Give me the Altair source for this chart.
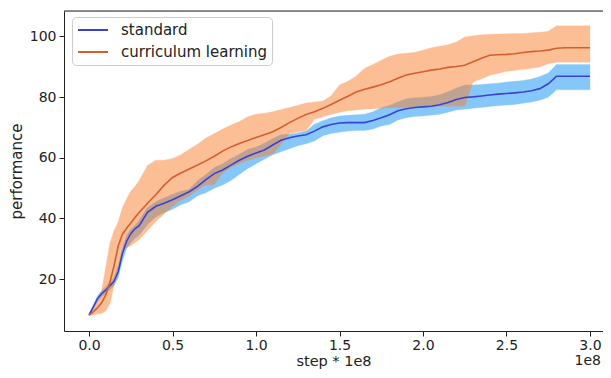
import altair as alt
import pandas as pd

# step (units of 1e8)
steps = [0, 0.025, 0.05, 0.075, 0.1, 0.125, 0.15, 0.175, 0.2, 0.225, 0.25, 0.275, 0.3,
         0.35, 0.4, 0.45, 0.5, 0.55, 0.6, 0.65, 0.7, 0.75, 0.8, 0.85, 0.9, 0.95, 1.0,
         1.05, 1.1, 1.15, 1.2, 1.25, 1.3, 1.35, 1.4, 1.45, 1.5, 1.55, 1.6, 1.65, 1.7,
         1.75, 1.8, 1.85, 1.9, 1.95, 2.0, 2.05, 2.1, 2.15, 2.2, 2.25, 2.3, 2.35, 2.4,
         2.45, 2.5, 2.55, 2.6, 2.65, 2.7, 2.75, 2.8, 2.85, 2.9, 2.95, 3.0]

std_mean = [8.2, 10.8, 13.5, 15.2, 16.4, 17.8, 19.3, 22.5, 28.5, 32.5, 35.0, 36.6, 37.6,
            42.0, 44.0, 45.0, 46.2, 47.5, 48.8, 50.6, 52.8, 54.8, 56.0, 57.6, 59.2, 60.5, 61.6,
            62.6, 64.2, 65.8, 66.6, 67.2, 67.6, 68.8, 70.2, 71.0, 71.5, 71.6, 71.6, 71.6, 72.3,
            73.2, 74.2, 75.5, 76.2, 76.6, 76.8, 77.0, 77.5, 78.2, 79.2, 79.9, 80.1, 80.4, 80.7,
            81.0, 81.2, 81.4, 81.7, 82.1, 82.8, 84.4, 86.9, 86.9, 86.9, 86.9, 86.9]
std_hi = [8.5, 11.5, 14.5, 16.2, 17.5, 19.0, 20.5, 24.5, 30.5, 34.5, 36.5, 37.7, 39.5,
          43.6, 45.5, 46.8, 48.0, 49.0, 49.6, 52.5, 54.5, 56.8, 58.0, 59.8, 61.2, 62.8, 63.6,
          64.8, 66.4, 67.6, 67.8, 68.2, 68.8, 71.1, 72.2, 73.2, 73.8, 74.0, 74.2, 74.4, 75.2,
          76.5, 77.3, 78.5, 79.5, 79.8, 80.0, 80.2, 80.8, 81.8, 83.0, 84.0, 84.0, 84.2, 84.4,
          84.6, 85.0, 85.2, 85.5, 86.0, 86.8, 88.0, 90.8, 90.8, 90.8, 90.8, 90.8]
std_lo = [7.9, 10.0, 12.5, 14.2, 15.3, 16.5, 17.8, 20.5, 26.0, 30.0, 32.0, 33.5, 34.5,
          38.0, 40.5, 42.0, 43.0, 44.5, 45.5, 47.5, 48.5, 50.0, 51.0, 52.5, 54.5, 56.5, 58.0,
          59.5, 61.0, 62.0, 63.0, 64.0, 64.6, 65.5, 67.3, 68.0, 68.4, 68.8, 69.0, 69.0, 69.5,
          70.5, 71.0, 72.5, 73.2, 73.6, 73.8, 74.0, 74.4, 75.0, 75.8, 76.0, 76.3, 76.6, 76.9,
          77.2, 77.4, 77.6, 78.0, 78.4, 79.0, 80.0, 82.4, 82.4, 82.4, 82.4, 82.4]

cur_mean = [8.1, 9.2, 10.5, 12.2, 14.8, 19.0, 24.5, 31.0, 34.8, 36.8, 38.5, 40.3, 42.0,
            45.0, 47.8, 51.0, 53.5, 55.0, 56.3, 57.6, 59.0, 60.5, 62.2, 63.6, 64.7, 65.7, 66.7,
            67.6, 68.6, 70.0, 71.6, 73.0, 74.3, 75.2, 76.3, 77.6, 79.0, 80.3, 81.7, 82.6, 83.3,
            84.1, 85.1, 86.2, 87.3, 87.9, 88.4, 88.9, 89.3, 89.8, 90.1, 90.5, 91.7, 92.8, 93.8,
            94.0, 94.1, 94.3, 94.7, 95.0, 95.2, 95.5, 96.1, 96.3, 96.3, 96.3, 96.3]
cur_hi = [8.3, 10.5, 12.8, 16.2, 24.0, 32.0, 36.0, 39.0, 43.6, 46.5, 49.0, 50.5, 52.5,
          57.5, 59.2, 59.2, 59.8, 61.0, 62.8, 64.5, 66.5, 68.0, 69.5, 70.8, 72.0, 73.5, 74.4,
          74.7, 75.2, 75.9, 76.6, 77.3, 78.1, 78.4, 78.7, 80.5, 84.0, 85.2, 87.0, 89.5, 90.8,
          92.2, 93.5, 94.2, 94.5, 94.8, 95.5, 96.3, 96.8, 97.3, 98.2, 99.8, 100.2, 100.6, 100.7,
          100.8, 100.9, 101.0, 101.0, 101.2, 101.4, 101.7, 103.5, 103.5, 103.5, 103.5, 103.5]
cur_lo = [7.9, 8.2, 8.5, 8.7, 9.5, 11.9, 18.0, 22.7, 29.5, 30.5, 31.0, 32.0, 33.0,
          36.0, 39.0, 41.5, 44.0, 46.0, 47.3, 49.5, 51.0, 51.2, 55.0, 56.8, 58.0, 59.2, 60.0,
          60.6, 61.2, 64.5, 68.0, 68.5, 69.0, 72.7, 73.5, 74.3, 75.0, 75.5, 75.8, 76.0, 76.2,
          76.3, 76.5, 76.6, 76.7, 76.8, 76.9, 77.0, 77.0, 77.0, 77.0, 77.0, 85.1, 86.0, 87.2,
          87.8, 88.5, 88.8, 89.2, 89.5, 89.9, 91.0, 91.5, 91.5, 91.5, 91.5, 91.5]

series_names = ["standard", "curriculum learning"]
line_colors = ["#3a42cf", "#d2602f"]
band_colors = ["#0f91f7", "#fb7f2b"]

rows = []
for name, m, lo, hi in [(series_names[0], std_mean, std_lo, std_hi),
                        (series_names[1], cur_mean, cur_lo, cur_hi)]:
    for s, a, b, c in zip(steps, m, lo, hi):
        rows.append({"step": s, "series": name, "mean": a, "lo": b, "hi": c})
df = pd.DataFrame(rows)

FONT = "DejaVu Sans"
TXT = "#222222"
W, H = 539, 320

xscale = alt.Scale(domain=[-0.15, 3.078], nice=False, zero=False)
yscale = alt.Scale(domain=[2.9, 108.4], nice=False, zero=False)

xaxis = alt.Axis(values=[0, 0.5, 1.0, 1.5, 2.0, 2.5, 3.0], format=".1f", grid=False,
                 title="step * 1e8", titleFontSize=14.5, titleFontWeight="normal",
                 titleFont=FONT, titleColor=TXT, titleY=30, titleBaseline="middle",
                 labelFont=FONT, labelFontSize=14, labelColor=TXT, tickColor=TXT,
                 domainColor=TXT, tickSize=5, labelPadding=2)
yaxis = alt.Axis(values=[20, 40, 60, 80, 100], grid=False, title="performance",
                 titleFontSize=15, titleFontWeight="normal", titleFont=FONT,
                 titleColor=TXT, titlePadding=5, labelFont=FONT, labelFontSize=14,
                 labelColor=TXT, tickColor=TXT, domainColor=TXT, tickSize=5,
                 labelPadding=3)

base = alt.Chart(df)

bands = []
for name, col in zip(series_names, band_colors):
    bands.append(
        base.transform_filter(alt.datum.series == name)
        .mark_area(interpolate="linear", color=col, opacity=0.5,
                   stroke=col, strokeWidth=1, strokeOpacity=0.3)
        .encode(x=alt.X("step:Q", scale=xscale, axis=xaxis),
                y=alt.Y("lo:Q", scale=yscale, axis=yaxis),
                y2="hi:Q")
    )

lines = base.mark_line(strokeWidth=1.6, interpolate="linear").encode(
    x=alt.X("step:Q", scale=xscale, axis=xaxis),
    y=alt.Y("mean:Q", scale=yscale, axis=yaxis),
    color=alt.Color("series:N", scale=alt.Scale(domain=series_names, range=line_colors),
                    sort=series_names,
                    legend=alt.Legend(title=None, orient="none", legendX=8, legendY=6,
                                      symbolType="stroke", symbolStrokeWidth=2,
                                      symbolSize=900, clipHeight=16,
                                      labelFont=FONT, labelFontSize=15,
                                      labelColor=TXT, padding=5, rowPadding=6,
                                      labelOffset=12, fillColor="white",
                                      strokeColor="#cccccc", cornerRadius=4)),
    detail="series:N",
)

topline = alt.Chart(pd.DataFrame({"v": [0]})).mark_rule(color=TXT, strokeWidth=1).encode(
    x=alt.value(0), x2=alt.value(W), y=alt.value(0))

offset_text = alt.Chart(pd.DataFrame({"t": ["1e8"]})).mark_text(
    font=FONT, fontSize=14, color=TXT, align="right", baseline="middle").encode(
    text="t:N", x=alt.value(W - 2), y=alt.value(H + 30))

chart = alt.layer(*bands, lines, topline, offset_text).properties(
    width=W, height=H,
    padding={"left": 56, "top": 3, "right": 0, "bottom": 38},
    autosize=alt.AutoSizeParams(type="none"),
).configure_view(stroke=None).configure(background="white")

chart.save("out.html", embed_options={"renderer": "svg", "actions": False})
